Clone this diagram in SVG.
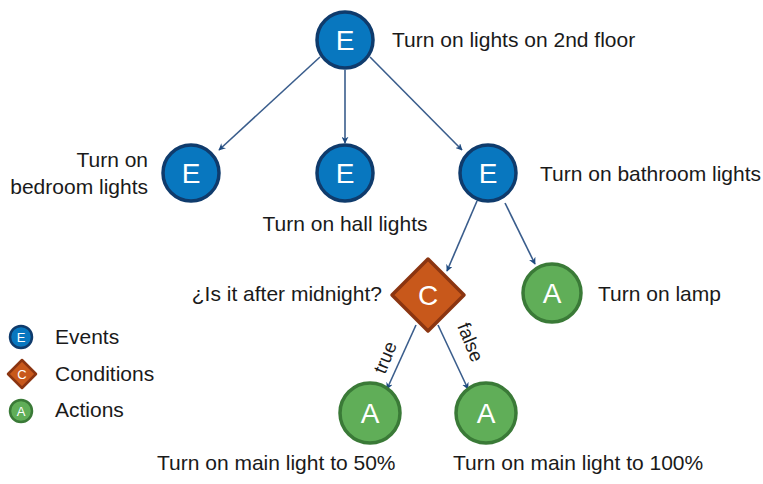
<svg xmlns="http://www.w3.org/2000/svg" width="763" height="484" viewBox="0 0 763 484">
<defs>
<style>
.ev{fill:#0877bf;stroke:#0f3b6c;stroke-width:3.5}
.co{fill:#c8581b;stroke:#8b3511;stroke-width:3.5;stroke-linejoin:round}
.ac{fill:#60ae58;stroke:#3a7a37;stroke-width:3.5}
.let{font-family:"Liberation Sans",Arial,sans-serif;font-size:28px;fill:#ffffff;text-anchor:middle}
.sl{font-family:"Liberation Sans",Arial,sans-serif;font-size:13px;fill:#ffffff;text-anchor:middle}
.lbl{font-family:"Liberation Sans",Arial,sans-serif;font-size:21px;fill:#1a1a1a}
.cn{stroke:#3a5d8c;stroke-width:1.6;fill:none;marker-end:url(#ah)}
</style>
<marker id="ah" viewBox="0 0 10 10" refX="9" refY="5" markerWidth="7" markerHeight="7" orient="auto" markerUnits="userSpaceOnUse">
<path d="M0,0 L10,5 L0,10 L3,5 Z" fill="#1f4b80"/>
</marker>
</defs>
<rect width="763" height="484" fill="#ffffff"/>
<g id="connectors">
<line class="cn" x1="320" y1="57" x2="219" y2="150"/>
<line class="cn" x1="345" y1="70" x2="345" y2="143"/>
<line class="cn" x1="370" y1="57" x2="462" y2="150"/>
<line class="cn" x1="477" y1="201" x2="447" y2="271"/>
<line class="cn" x1="505" y1="203" x2="535" y2="264"/>
<line class="cn" x1="416" y1="325" x2="387" y2="389"/>
<line class="cn" x1="438" y1="325" x2="468" y2="389"/>
<text class="lbl" style="font-size:19px" transform="translate(385,375) rotate(-68)">true</text>
<text class="lbl" style="font-size:19px" transform="translate(457,326) rotate(68)">false</text>
</g>
<g id="e-top"><circle class="ev" cx="345" cy="40" r="28"/><text class="let" x="345" y="50">E</text>
<text class="lbl" x="392" y="47">Turn on lights on 2nd floor</text></g>
<g id="e-bedroom"><circle class="ev" cx="191" cy="173" r="28"/><text class="let" x="191" y="183">E</text>
<text class="lbl" x="148" y="167" text-anchor="end">Turn on</text>
<text class="lbl" x="148" y="194" text-anchor="end">bedroom lights</text></g>
<g id="e-hall"><circle class="ev" cx="345" cy="173" r="28"/><text class="let" x="345" y="183">E</text>
<text class="lbl" x="345" y="231" text-anchor="middle">Turn on hall lights</text></g>
<g id="e-bath"><circle class="ev" cx="488" cy="173" r="28"/><text class="let" x="488" y="183">E</text>
<text class="lbl" x="540" y="181">Turn on bathroom lights</text></g>
<g id="c-midnight"><path class="co" d="M428,259 L464,295 L428,331 L392,295 Z"/><text class="let" x="428" y="305">C</text>
<text class="lbl" x="382" y="301" text-anchor="end">¿Is it after midnight?</text></g>
<g id="a-lamp"><circle class="ac" cx="552" cy="293" r="29"/><text class="let" x="552" y="303">A</text>
<text class="lbl" x="598" y="301">Turn on lamp</text></g>
<g id="a-50"><circle class="ac" cx="370" cy="413" r="30"/><text class="let" x="370" y="423">A</text>
<text class="lbl" x="157" y="470">Turn on main light to 50%</text></g>
<g id="a-100"><circle class="ac" cx="486" cy="413" r="30"/><text class="let" x="486" y="423">A</text>
<text class="lbl" x="453" y="470">Turn on main light to 100%</text></g>
<g id="legend">
<circle class="ev" cx="21" cy="337" r="11" style="stroke-width:2.5"/><text class="sl" x="21" y="342">E</text>
<text class="lbl" x="55" y="344">Events</text>
<path class="co" d="M22,360 L36,374 L22,388 L8,374 Z" style="stroke-width:2.5"/><text class="sl" x="22" y="379">C</text>
<text class="lbl" x="55" y="381">Conditions</text>
<circle class="ac" cx="21" cy="411" r="11" style="stroke-width:2.5"/><text class="sl" x="21" y="416">A</text>
<text class="lbl" x="55" y="417">Actions</text>
</g>
</svg>
